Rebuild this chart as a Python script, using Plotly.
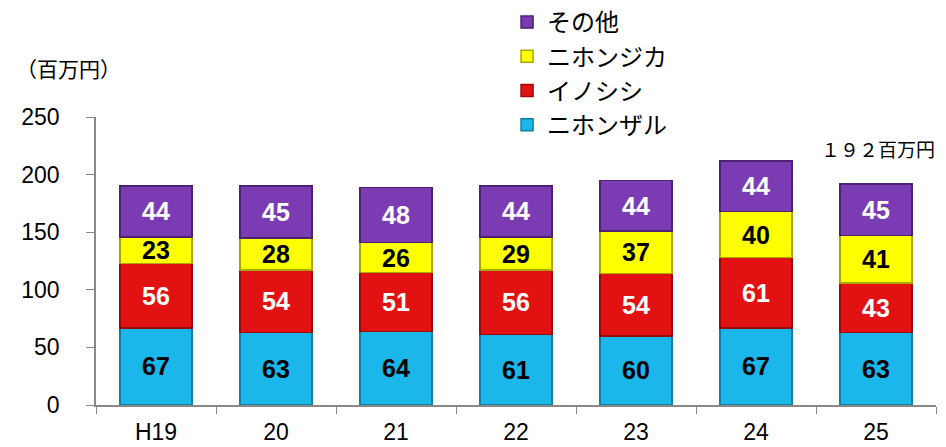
import plotly.graph_objects as go

categories = ["H19", "20", "21", "22", "23", "24", "25"]
saru = [67, 63, 64, 61, 60, 67, 63]
inoshishi = [56, 54, 51, 56, 54, 61, 43]
shika = [23, 28, 26, 29, 37, 40, 41]
sonota = [44, 45, 48, 44, 44, 44, 45]

series = [
    ("ニホンザル", saru, "#1BB6EA", "#0F7FA6", "black"),
    ("イノシシ", inoshishi, "#E31212", "#9A0A0A", "white"),
    ("ニホンジカ", shika, "#FFFF00", "#A8A800", "black"),
    ("その他", sonota, "#7B3CB3", "#4B2173", "white"),
]

fig = go.Figure()
for name, vals, col, edge, tcol in series:
    fig.add_trace(go.Bar(
        x=categories, y=vals, name=name, width=0.6, legendgroup=name,
        marker=dict(color=col, line=dict(color=edge, width=1.5)),
        text=[str(v) for v in vals], textposition="inside", textangle=0,
        insidetextanchor="middle", constraintext="none",
        textfont=dict(family="Liberation Sans", size=25, color=tcol, weight="bold"),
    ))

fig.update_layout(
    barmode="stack",
    width=946, height=447,
    margin=dict(l=96, r=10, t=117, b=42, autoexpand=False),
    paper_bgcolor="white", plot_bgcolor="white",
    font=dict(family="Liberation Sans", color="black"),
    legend=dict(
        traceorder="reversed", xref="container", yref="container",
        x=0.536, xanchor="left", y=1.0, yanchor="top", tracegroupgap=2,
        font=dict(family="Noto Sans CJK JP", size=24, color="black"),
        bgcolor="rgba(0,0,0,0)",
    ),
    xaxis=dict(
        range=[-0.5, 6.5], showline=True, linecolor="#888888", linewidth=1.5,
        ticks="outside", tickson="boundaries", ticklen=7, tickcolor="#888888",
        tickfont=dict(size=23, color="black"), showgrid=False,
        ticklabelstandoff=6,
    ),
    yaxis=dict(
        range=[0, 250], dtick=50, showline=True, linecolor="#888888", linewidth=1.5,
        ticks="outside", ticklen=8, tickcolor="#888888", showgrid=False,
        tickfont=dict(size=23, color="black"), zeroline=False,
        ticklabelstandoff=22,
    ),
    annotations=[
        dict(text="（百万円）", xref="paper", yref="paper", x=-0.033, y=1.17,
             xanchor="center", yanchor="middle",
             showarrow=False, font=dict(family="Noto Sans CJK JP", size=21, color="black")),
        dict(text="１９２百万円", xref="paper", yref="paper", x=0.931, y=0.892,
             xanchor="center", yanchor="middle",
             showarrow=False, font=dict(family="Noto Sans CJK JP", size=19, color="black")),
    ],
)

fig.write_html("out.html", config={"displayModeBar": False},
               post_script="document.body.style.margin='0';document.body.style.overflow='hidden';")
